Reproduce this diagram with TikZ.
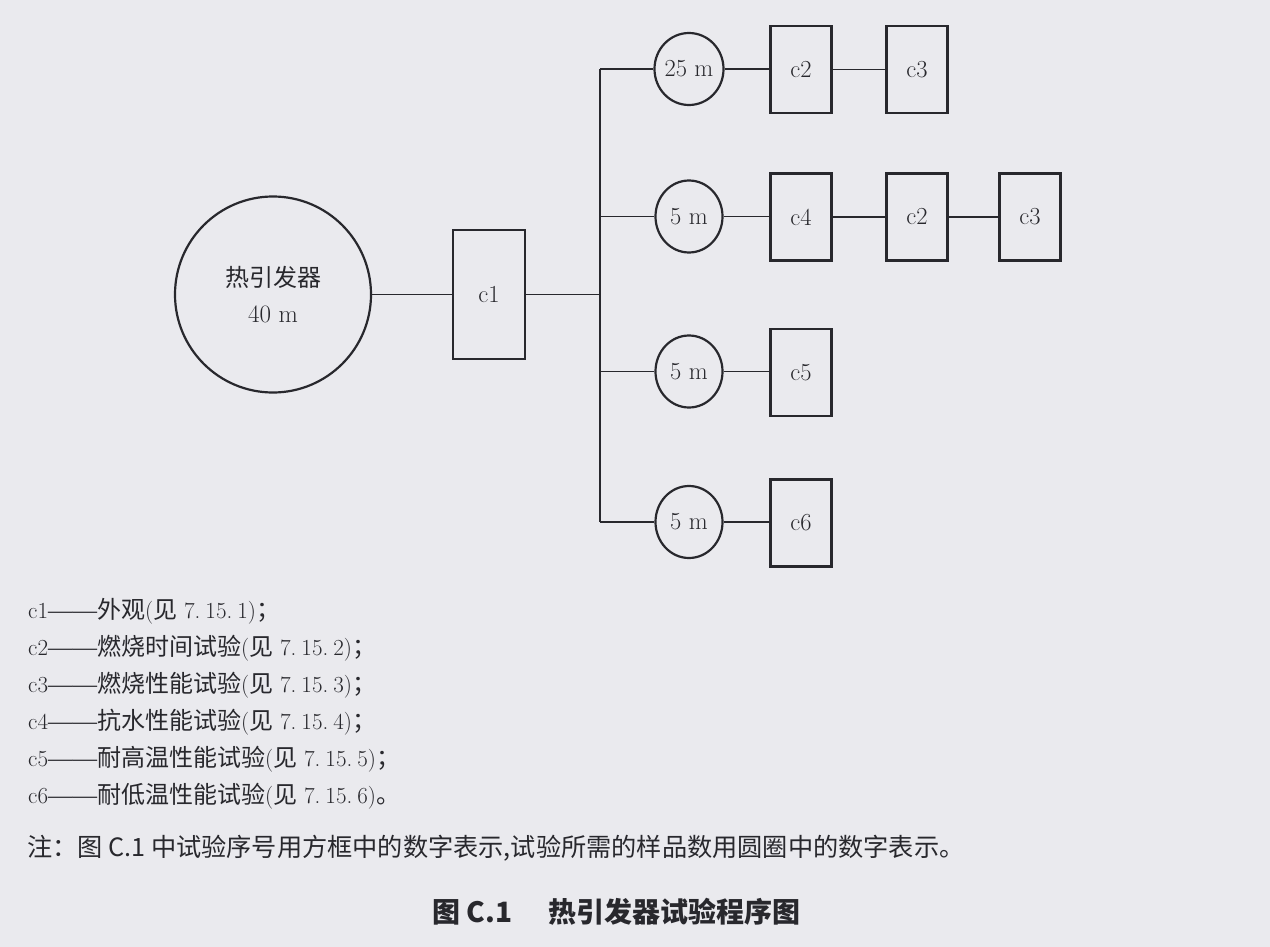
\documentclass[tikz,border=0pt]{standalone}
\usepackage{fontspec}
\newfontfamily\cjk{Noto Sans CJK SC}
\newfontfamily\dashfont{Liberation Serif}
\usetikzlibrary{shapes.geometric}
\definecolor{paper}{RGB}{234,234,238}
\definecolor{ink}{RGB}{40,40,45}
\newcommand{\zh}[1]{{\cjk\fontsize{24}{28}\selectfont #1}}
\newcommand{\secn}[3]{#1.\kern5pt#2.\kern5pt#3}
\newcommand{\legline}[4]{#1{\dashfont\fontsize{24.5}{28}\selectfont ——}\zh{#2}(\zh{见} \secn#3)\zh{#4}}
\begin{document}
\begin{tikzpicture}[x=1pt,y=-1pt,
  conn/.style={draw=ink,line width=1.4pt},
  bigc/.style={circle,draw=ink,line width=2.2pt,minimum size=196pt,inner sep=0pt,align=center,text=ink,font=\fontsize{25}{36}\selectfont},
  smallc/.style={ellipse,draw=ink,line width=2.2pt,minimum width=67pt,minimum height=72pt,inner sep=0pt,text=ink,font=\fontsize{24.5}{28}\selectfont},
  boxn/.style={rectangle,draw=ink,line width=2.2pt,minimum width=61pt,minimum height=87pt,inner sep=0pt,text=ink,font=\fontsize{24.5}{28}\selectfont},
  leg/.style={anchor=base west,inner sep=0pt,text=ink,font=\fontsize{23}{26}\selectfont},
]
\fill[paper] (0,0) rectangle (1270,947);
\useasboundingbox (0,0) rectangle (1270,947);

\node[bigc] (src) at (273,294.5) {\zh{热引发器}\\40 m};
\node[boxn,minimum width=72pt,minimum height=129pt] (c1) at (489,294.5) {c1};

\coordinate (bj) at (600,294.5);
\coordinate (b1) at (600,69);
\coordinate (b2) at (600,216.5);
\coordinate (b3) at (600,371.5);
\coordinate (b4) at (600,522);

\node[smallc] (s1) at (689,69) {25 m};
\node[smallc] (s2) at (689,216.5) {5 m};
\node[smallc] (s3) at (689,371.5) {5 m};
\node[smallc] (s4) at (689,522) {5 m};

\node[boxn] (r1a) at (801,69.5) {c2};
\node[boxn] (r1b) at (917,69.5) {c3};
\node[boxn] (r2a) at (801,217) {c4};
\node[boxn] (r2b) at (917,217) {c2};
\node[boxn] (r2c) at (1030,217) {c3};
\node[boxn] (r3a) at (801,372.5) {c5};
\node[boxn] (r4a) at (801,523) {c6};

\draw[conn] (src) -- (c1);
\draw[conn] (c1.east) -- (bj);
\draw[conn] (b1) -- (b4);
\draw[conn] (b1) -- (s1);
\draw[conn] (b2) -- (s2);
\draw[conn] (b3) -- (s3);
\draw[conn] (b4) -- (s4);
\draw[conn] (s1.east) -- (s1.east -| r1a.west);
\draw[conn] (r1a) -- (r1b);
\draw[conn] (s2.east) -- (s2.east -| r2a.west);
\draw[conn] (r2a) -- (r2b);
\draw[conn] (r2b) -- (r2c);
\draw[conn] (s3.east) -- (s3.east -| r3a.west);
\draw[conn] (s4.east) -- (s4.east -| r4a.west);

\node[leg] (l1) at (28,618) {\legline{c1}{外观}{{7}{15}{1}}{；}};
\node[leg] (l2) at (28,655) {\legline{c2}{燃烧时间试验}{{7}{15}{2}}{；}};
\node[leg] (l3) at (28,692) {\legline{c3}{燃烧性能试验}{{7}{15}{3}}{；}};
\node[leg] (l4) at (28,729) {\legline{c4}{抗水性能试验}{{7}{15}{4}}{；}};
\node[leg] (l5) at (28,766) {\legline{c5}{耐高温性能试验}{{7}{15}{5}}{；}};
\node[leg] (l6) at (28,803) {\legline{c6}{耐低温性能试验}{{7}{15}{6}}{。}};

\node[anchor=base west,inner sep=0pt,text=ink,font=\cjk\fontsize{25.2}{28}\selectfont] (note) at (27,856) {注：图 C.1 中试验序号用方框中的数字表示,试验所需的样品数用圆圈中的数字表示。};
\node[anchor=base west,inner sep=0pt,text=ink,font=\cjk\bfseries\fontsize{28}{32}\selectfont] (title) at (432,922) {图 C.1\hspace{1.3em}热引发器试验程序图};
\end{tikzpicture}
\end{document}
